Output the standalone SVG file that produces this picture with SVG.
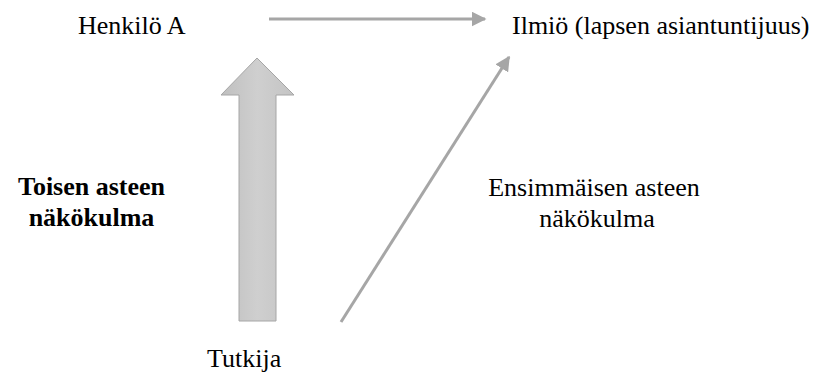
<svg xmlns="http://www.w3.org/2000/svg" width="822" height="376" viewBox="0 0 822 376">
  <style>
    .lbl { font-family: "Liberation Serif", "Times New Roman", serif; font-size: 26px; fill: #000; }
    .bold { font-weight: bold; }
    .conn { stroke: #a6a6a6; stroke-width: 3; fill: none; }
  </style>
  <defs>
    <marker id="head" viewBox="0 0 10 10" refX="9" refY="5" markerWidth="5" markerHeight="5" orient="auto" markerUnits="strokeWidth">
      <path d="M0,0 L10,5 L0,10 Z" fill="#a6a6a6"/>
    </marker>
    <linearGradient id="blockFill" x1="0" y1="0" x2="1" y2="0">
      <stop offset="0" stop-color="#bfbfbf"/>
      <stop offset="0.5" stop-color="#cfcfcf"/>
      <stop offset="1" stop-color="#c4c4c4"/>
    </linearGradient>
  </defs>

  <rect width="822" height="376" fill="#fff"/>

  <g id="henkilo-a">
    <text class="lbl" x="78" y="34">Henkilö A</text>
  </g>
  <g id="ilmio">
    <text class="lbl" x="512" y="34">Ilmiö (lapsen asiantuntijuus)</text>
  </g>
  <g id="tutkija">
    <text class="lbl" x="207" y="367">Tutkija</text>
  </g>
  <g id="toisen-asteen">
    <text class="lbl bold" x="91.5" y="195" text-anchor="middle">Toisen asteen</text>
    <text class="lbl bold" x="91.5" y="226" text-anchor="middle">näkökulma</text>
  </g>
  <g id="ensimmaisen-asteen">
    <text class="lbl" x="594" y="196" text-anchor="middle">Ensimmäisen asteen</text>
    <text class="lbl" x="597" y="227" text-anchor="middle">näkökulma</text>
  </g>

  <g id="connectors">
    <line class="conn" x1="269" y1="19" x2="485" y2="19" marker-end="url(#head)"/>
    <line class="conn" x1="341" y1="322" x2="509" y2="57" marker-end="url(#head)"/>
    <path d="M257,58 L294,95 L276,95 L276,321 L239,321 L239,95 L221,95 Z" fill="url(#blockFill)" stroke="#a6a6a6" stroke-width="1"/>
  </g>
</svg>
